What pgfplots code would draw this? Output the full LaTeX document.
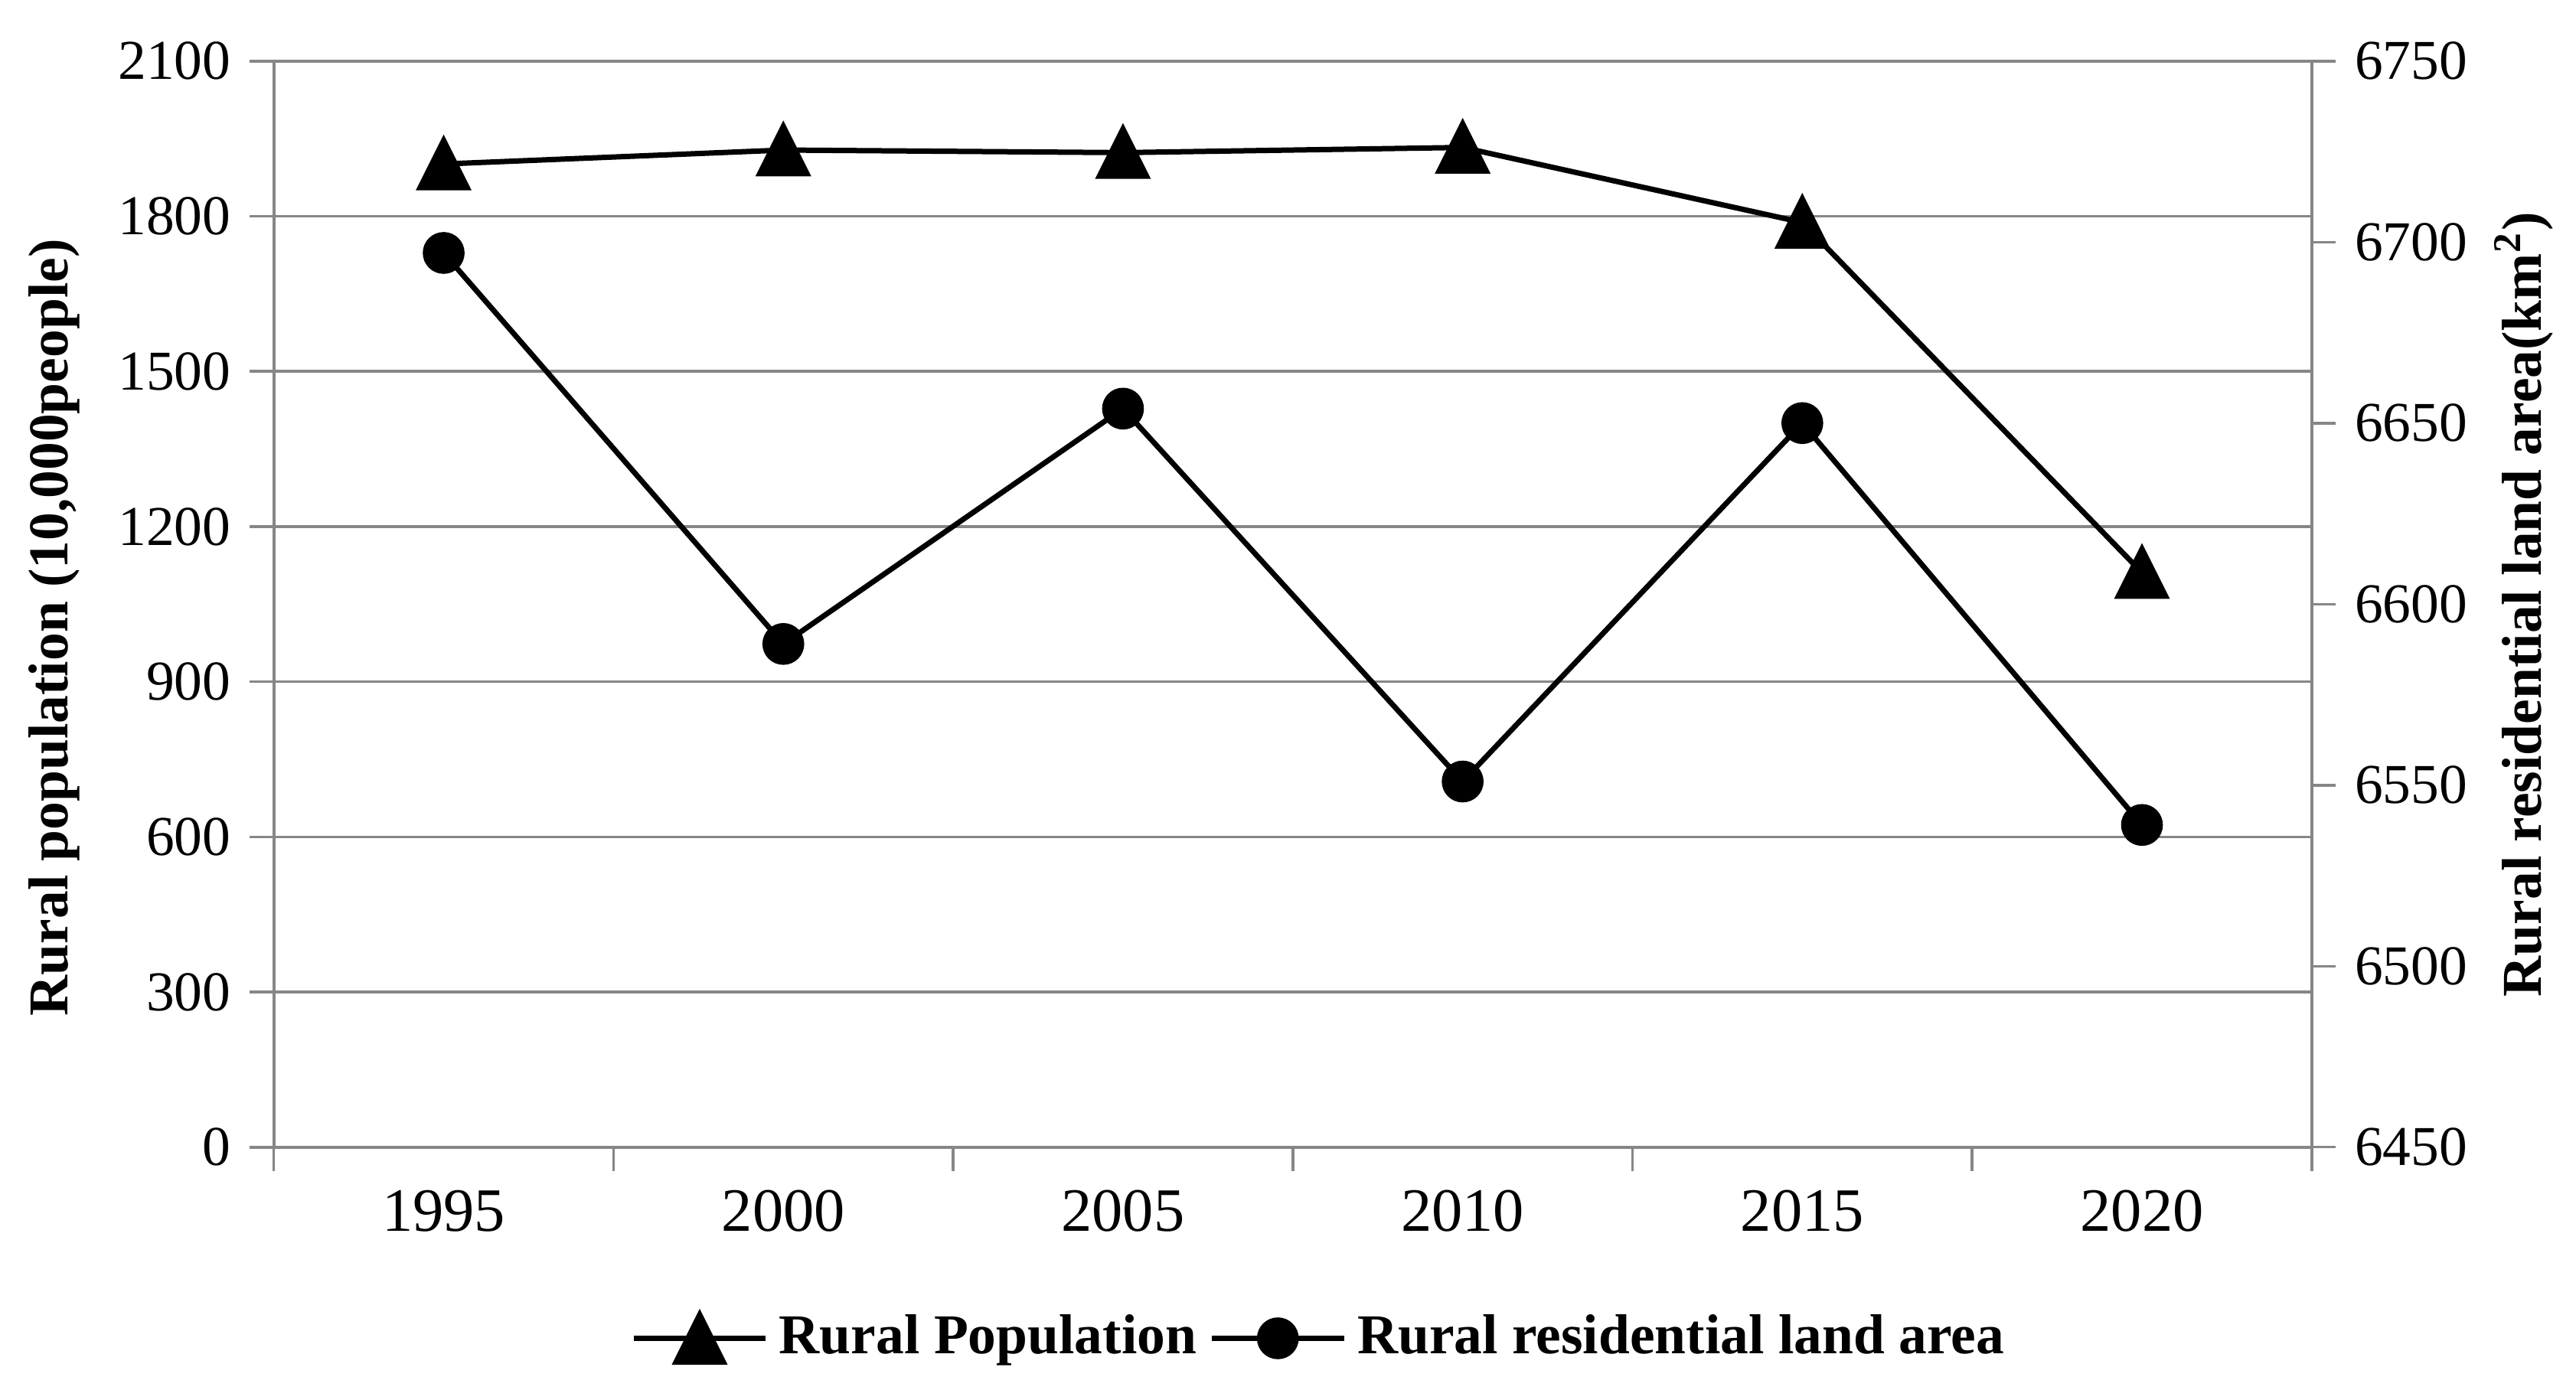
\documentclass[border=0pt]{standalone}
\usepackage{fontspec}
\setmainfont{Liberation Serif}
\usepackage{pgfplots}
\pgfplotsset{compat=1.18}
\definecolor{gridgray}{RGB}{134,134,134}
\pgfdeclareplotmark{xltri}{%
 \pgfpathmoveto{\pgfqpoint{0pt}{4.4pt}}%
 \pgfpathlineto{\pgfqpoint{-4.4pt}{-4.4pt}}%
 \pgfpathlineto{\pgfqpoint{4.4pt}{-4.4pt}}%
 \pgfpathclose
 \pgfusepathqfillstroke}
\pgfplotsset{
 common/.style={
  at={(0,0)}, anchor=south west,
  scale only axis, width=380.3pt, height=202.7pt,
  xmin=-0.5, xmax=5.5,
  axis line style={gridgray, line width=0.6pt},
  tick style={gridgray, line width=0.5pt},
  major tick length=4.5pt, tick align=outside,
  /pgf/number format/1000 sep={},
  /pgf/number format/assume math mode=true,
  yticklabel style={font=\fontsize{10.5}{12}\selectfont, black},
  xticklabel style={font=\fontsize{11.5}{13}\selectfont, black},
 }
}
\begin{document}
\begin{tikzpicture}
\useasboundingbox (-51.1pt,-45.3pt) rectangle (429.6pt,214.1pt);
\begin{axis}[common,
 ymin=0, ymax=2100, ytick={0,300,...,2100},
 xtick={-0.5,0.5,...,5.5},
 xticklabels={1995,2000,2005,2010,2015,2020},
 x tick label as interval,
 axis x line*=bottom, axis y line*=left,
 ymajorgrids, grid style={gridgray, line width=0.5pt},
 ylabel={Rural population (10,000people)},
 ylabel style={font=\bfseries\fontsize{10.5}{12}\selectfont, at={(axis description cs:-0.1076,0.4785)}, anchor=center},
]
\addplot[black, line width=1pt, mark=xltri, mark options={solid, fill=black}] coordinates {(0,1901) (1,1928) (2,1923) (3,1933) (4,1788) (5,1111)};
\end{axis}
\begin{axis}[common,
 ymin=6450, ymax=6750, ytick={6450,6500,...,6750},
 axis y line*=right, axis x line=none,
 ylabel={Rural residential land area(km\textsuperscript{2})},
 ylabel style={font=\bfseries\fontsize{10.5}{12}\selectfont, at={(axis description cs:1.104,0.4997)}, anchor=center, rotate=0},
 legend columns=2,
 legend style={draw=none, fill=none, at={(axis description cs:0.5147,-0.176)}, anchor=center, font=\bfseries\fontsize{10.5}{12}\selectfont, /tikz/every even column/.append style={column sep=0.3pt}},
 legend image code/.code={\draw[mark repeat=2, mark phase=2, #1] plot coordinates {(0pt,0pt) (12.35pt,0pt) (24.7pt,0pt)};},
]
\addlegendimage{black, line width=1pt, mark=xltri, mark options={solid, fill=black}}
\addlegendentry{Rural Population}
\addplot[black, line width=1pt, mark=*, mark size=3.4pt, mark options={solid, fill=black}] coordinates {(0,6697) (1,6589) (2,6654) (3,6551) (4,6650) (5,6539)};
\addlegendentry{Rural residential land area}
\end{axis}
\end{tikzpicture}
\end{document}
